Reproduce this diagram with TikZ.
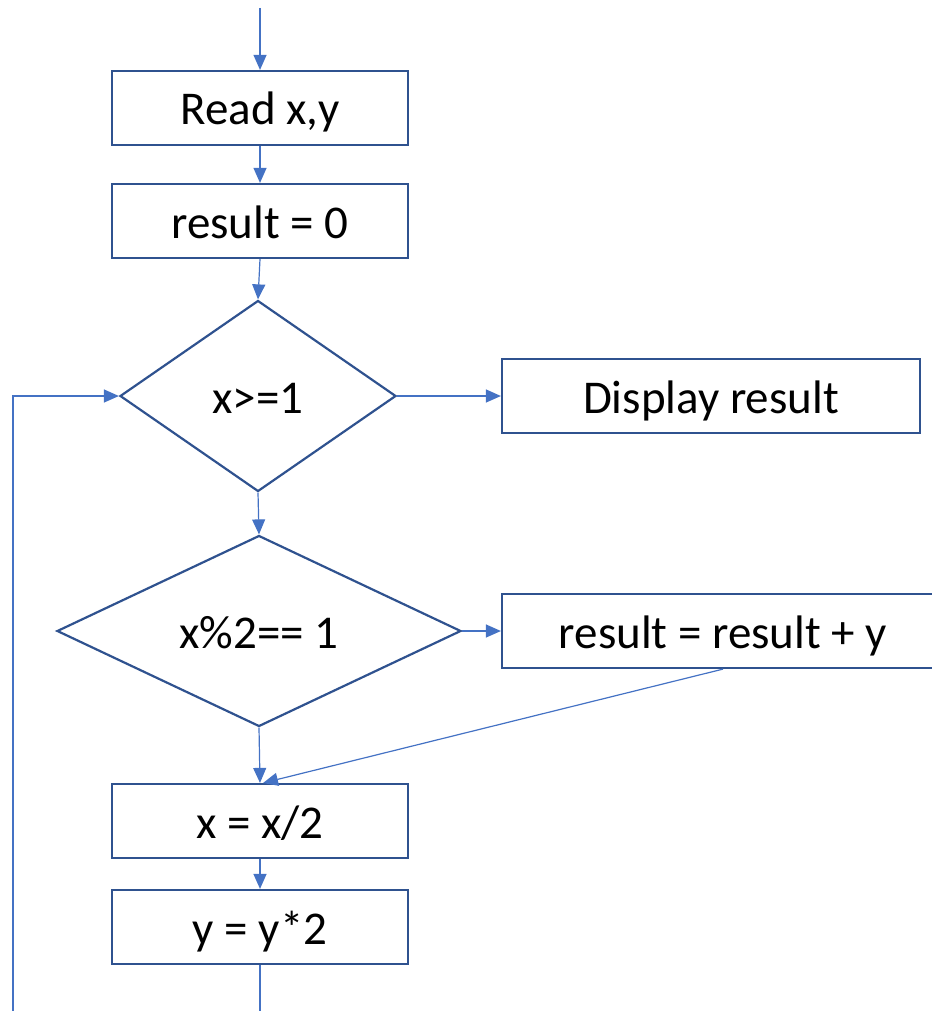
\documentclass[tikz,border=0pt]{standalone}
\usepackage{fontspec}
\setmainfont{Carlito}
\usetikzlibrary{shapes.geometric,arrows.meta}
\definecolor{boxblue}{HTML}{2F528F}
\definecolor{linkblue}{HTML}{4472C4}
\begin{document}
\begin{tikzpicture}[x=1pt,y=-1pt,
  every node/.style={font=\fontsize{47}{54}\selectfont, text=black, text height=36pt, text depth=2pt},
  procbox/.style={draw=boxblue, line width=2.2pt, rectangle, inner sep=0pt, minimum height=74pt},
  decision/.style={draw=boxblue, line width=2.2pt, diamond, aspect=2, inner sep=0pt},
  link/.style={draw=linkblue, line width=1.2pt, -{Triangle[length=15pt,width=13pt]}},
  plain/.style={draw=linkblue, line width=1.2pt}]
\useasboundingbox (0,0) rectangle (931,1011);
\coordinate (start) at (260,8);
\node[procbox, minimum width=296pt] (read) at (260,108) {Read x,y};
\node[procbox, minimum width=296pt] (init) at (260,221) {result = 0};
\node[decision, minimum width=276pt, minimum height=191pt] (c1) at (258,396) {x>=1};
\node[procbox, minimum width=418pt] (disp) at (711,396) {Display result};
\node[decision, minimum width=404pt, minimum height=191pt] (c2) at (259,631) {x\%2== 1};
\node[procbox, minimum width=442pt] (add) at (723,631) {result = result + y};
\node[procbox, minimum width=296pt] (half) at (260,821) {x = x/2};
\node[procbox, minimum width=296pt] (dbl) at (260,927) {y = y*2};
\coordinate (bot) at (260,1012);
\coordinate (loopbot) at (13,1012);
\coordinate (loopcorner) at (13,396);
\coordinate (hin) at (263,783);

\draw[link] (start) -- (read.north);
\draw[link] (read.south) -- (init.north);
\draw[link] (init.south) -- (c1.north);
\draw[link] (c1.east) -- (disp.west);
\draw[link] (c1.south) -- (c2.north);
\draw[link] (c2.east) -- (add.west);
\draw[link] (c2.south) -- (half.north);
\draw[link] (add.south) -- (hin);
\draw[link] (half.south) -- (dbl.north);
\draw[plain] (dbl.south) -- (bot);
\draw[link] (loopbot) -- (loopcorner) -- (c1.west);
\end{tikzpicture}
\end{document}
